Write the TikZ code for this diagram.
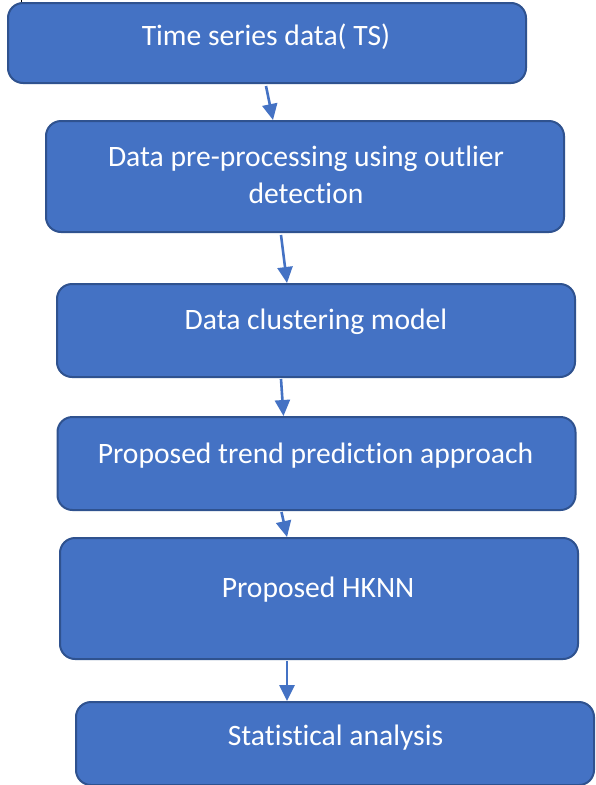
\documentclass[tikz,border=0pt]{standalone}
\usepackage{fontspec}
\setmainfont{Carlito}[RawFeature=-liga]
\usetikzlibrary{arrows.meta}
\definecolor{boxfill}{HTML}{4472C4}
\definecolor{boxline}{HTML}{2F528F}
\tikzset{
  flowbox/.style={draw=boxline, line width=2pt, fill=boxfill, rounded corners=15pt,
    minimum width=518pt, inner sep=0pt},
  boxtext/.style={text=white, font=\fontsize{29.6}{36}\selectfont, anchor=base, inner sep=0pt},
  flowarrow/.style={draw=boxfill, line width=2.6pt, -{Triangle[width=15pt,length=16pt]}}
}
\begin{document}
\begin{tikzpicture}[x=1pt,y=-1pt]
\useasboundingbox (0,0) rectangle (595,785);
\fill[white] (0,0) rectangle (595,785);
\draw[black, line width=1pt] (21.5,0) -- (21.5,3);

\node[flowbox, minimum height=80pt]  (b1) at (267,43) {};
\node[flowbox, minimum height=111pt] (b2) at (305,176.5) {};
\node[flowbox, minimum height=93pt]  (b3) at (316,330.5) {};
\node[flowbox, minimum height=93pt]  (b4) at (316.5,463.5) {};
\node[flowbox, minimum height=121pt] (b5) at (319,598.5) {};
\node[flowbox, minimum height=83pt]  (b6) at (335,743.5) {};

\node[boxtext] (t1) at (266,45) {Time series data( TS)};
\node[boxtext] (t2a) at (306,166) {Data pre-processing using outlier};
\node[boxtext] (t2b) at (306,203) {detection};
\node[boxtext] (t3) at (316,329) {Data clustering model};
\node[boxtext] (t4) at (315.5,463) {Proposed trend prediction approach};
\node[boxtext] (t5) at (318,597) {Proposed HKNN};
\node[boxtext] (t6) at (335.5,745) {Statistical analysis};

\draw[flowarrow] ([xshift=259pt,yshift=-2pt]b1.south west) -- ([xshift=228pt]b2.north west);
\draw[flowarrow] ([xshift=236pt,yshift=-2pt]b2.south west) -- ([xshift=231pt]b3.north west);
\draw[flowarrow] ([xshift=225pt,yshift=-1pt]b3.south west) -- ([xshift=227pt]b4.north west);
\draw[flowarrow] ([xshift=225pt,yshift=-1pt]b4.south west) -- ([xshift=228pt]b5.north west);
\draw[flowarrow] ([xshift=228pt,yshift=-1pt]b5.south west) -- ([xshift=212pt]b6.north west);
\end{tikzpicture}
\end{document}
